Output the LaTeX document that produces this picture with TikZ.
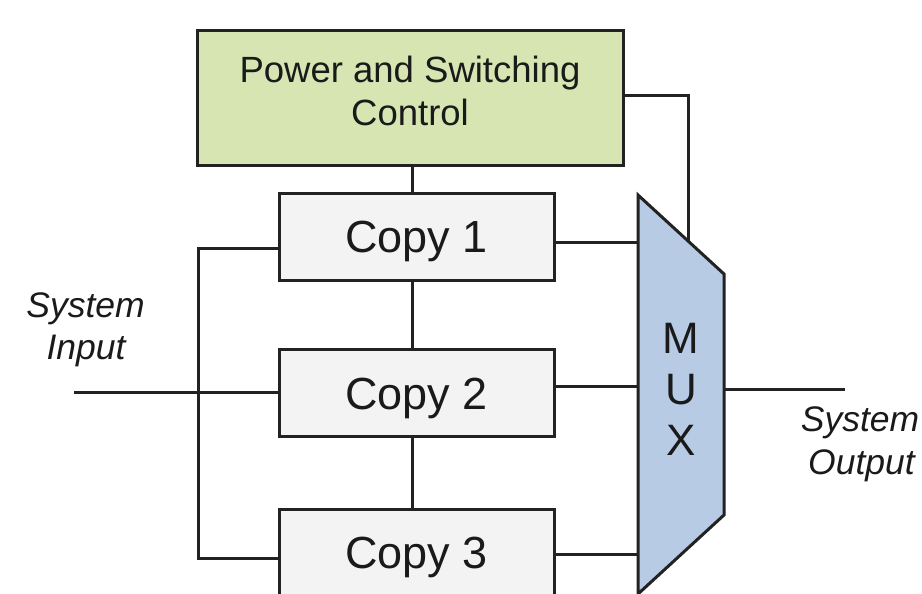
\documentclass[tikz,border=0pt]{standalone}
\usepackage{fontspec}
\setmainfont{Liberation Sans}
\definecolor{inkc}{HTML}{222222}
\definecolor{textc}{HTML}{1A1A1A}
\definecolor{ctrlfill}{HTML}{D6E5B1}
\definecolor{copyfill}{HTML}{F3F3F3}
\definecolor{muxfill}{HTML}{B8CBE4}
\begin{document}
\begin{tikzpicture}[x=1pt,y=-1pt,
  wire/.style={draw=inkc,line width=3pt},
  blockbase/.style={draw=inkc,line width=3pt,rectangle,inner sep=0pt,text=textc},
  ctrlbox/.style={blockbase,fill=ctrlfill,minimum width=426pt,minimum height=134pt},
  copybox/.style={blockbase,fill=copyfill,minimum width=275pt,minimum height=87pt,
    font=\fontsize{45}{50}\selectfont,text height=32pt,text depth=0pt},
  ctrltext/.style={inner sep=0pt,text=textc,font=\fontsize{36.5}{42}\selectfont,text height=26pt,text depth=0pt},
  muxtext/.style={inner sep=0pt,text=textc,font=\fontsize{44}{50}\selectfont,text height=31.5pt,text depth=0pt},
  iotext/.style={inner sep=0pt,text=textc,font=\fontsize{35.5}{42}\selectfont\itshape,text height=25.5pt,text depth=0pt}]
\useasboundingbox (0,0) rectangle (922,594);
\clip (0,0) rectangle (922,594);

% control block
\node[ctrlbox] (pwr) at (410,98) {};
\node[ctrltext] (pwrA) at (410,70) {Power and Switching};
\node[ctrltext] (pwrB) at (410,112) {Control};

% the three copies
\node[copybox] (c1) at (416.5,236.5) {Copy 1};
\node[copybox] (c2) at (416.5,393) {Copy 2};
\node[copybox] (c3) at (416.5,552.5) {Copy 3};

% multiplexer outline
\coordinate (mTL) at (638,195);
\coordinate (mTR) at (724,274);
\coordinate (mBR) at (724,515);
\coordinate (mBL) at (638,594);
\draw[wire,fill=muxfill,line join=miter] (mTL) -- (mTR) -- (mBR) -- (mBL) -- cycle;
\node[muxtext] (mM) at (681,338) {M};
\node[muxtext] (mU) at (681,389) {U};
\node[muxtext] (mX) at (681,440) {X};

% junction points on the wires
\coordinate (ctlTurn) at (688,96);
\coordinate (ctlEnd) at (688,241);
\coordinate (in1) at (638,242);
\coordinate (in2) at (638,386);
\coordinate (in3) at (638,554);
\coordinate (busTop) at (198,248);
\coordinate (busBot) at (198,558);
\coordinate (sysIn) at (74,392);
\coordinate (sysOut) at (845,389);
\coordinate (muxOut) at (724,389);

% control wiring
\draw[wire] (pwr.east |- ctlTurn) -- (ctlTurn) -- (ctlEnd);
\draw[wire] (412,165) -- (412,193);
\draw[wire] (412,280) -- (412,349);
\draw[wire] (412,437) -- (412,509);

% input fan-out
\draw[wire] (c1.west |- busTop) -- (busTop) -- (busBot) -- (c3.west |- busBot);
\draw[wire] (sysIn) -- (c2.west |- sysIn);

% copies to multiplexer
\draw[wire] (c1.east |- in1) -- (in1);
\draw[wire] (c2.east |- in2) -- (in2);
\draw[wire] (c3.east |- in3) -- (in3);
\draw[wire] (muxOut) -- (sysOut);

% system labels
\node[iotext] (inA) at (85.5,305) {System};
\node[iotext] (inB) at (86,347) {Input};
\node[iotext] (outA) at (860,419) {System};
\node[iotext] (outB) at (861.5,462) {Output};
\end{tikzpicture}
\end{document}
